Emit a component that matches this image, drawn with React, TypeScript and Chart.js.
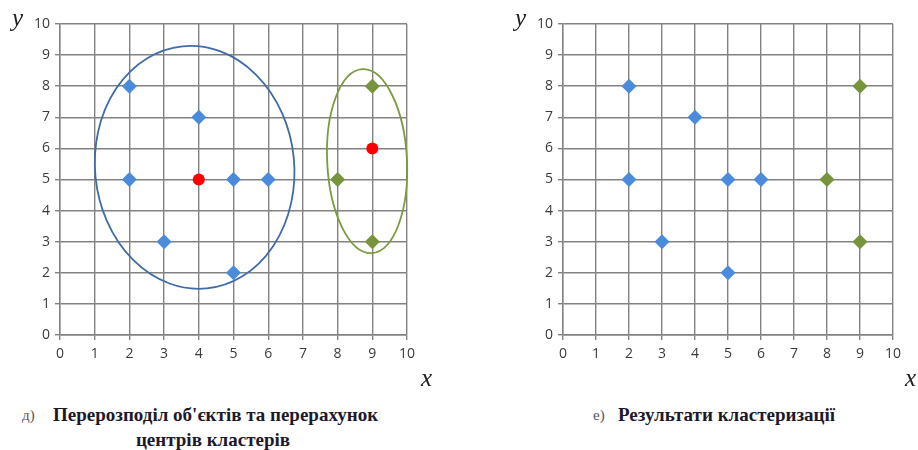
import React, { useEffect, useRef } from "react";
import { Chart, registerables } from "chart.js";

Chart.register(...registerables);

// Cluster members
const blueX = [2, 4, 2, 5, 6, 3, 5];
const blueY = [8, 7, 5, 5, 5, 3, 2];
const greenX = [8, 9, 9];
const greenY = [5, 8, 3];
// Recomputed cluster centres
const centreX = [4, 9];
const centreY = [5, 6];

// Axis range and ticks
const axisMin = 0;
const axisMax = 10;
const tickStep = 1;

// Cluster outlines (centre and half-axes in data units)
const outlineCx = [3.88, 8.85];
const outlineCy = [5.39, 5.59];
const outlineRx = [2.87, 1.15];
const outlineRy = [3.91, 2.96];
const outlineTilt = [-0.1, -0.05];
const outlineColors = ["#3f6ca8", "#7a9b3e"];

const BLUE = "#4a8bdb";
const GREEN = "#77933c";
const RED = "#ff0000";
const GRID = "#828282";

type Pt = { x: number; y: number };
const zip = (xs: number[], ys: number[]): Pt[] => xs.map((x, i) => ({ x, y: ys[i] }));

const outlinePlugin = {
  id: "clusterOutlines",
  beforeDatasetsDraw(chart: any, _args: any, opts: any) {
    if (!opts || !opts.show) return;
    const { ctx, scales } = chart;
    const xs = scales.x;
    const ys = scales.y;
    ctx.save();
    outlineCx.forEach((cx, i) => {
      const px = xs.getPixelForValue(cx);
      const py = ys.getPixelForValue(outlineCy[i]);
      const rx = Math.abs(xs.getPixelForValue(cx + outlineRx[i]) - px);
      const ry = Math.abs(ys.getPixelForValue(outlineCy[i] + outlineRy[i]) - py);
      ctx.beginPath();
      ctx.ellipse(px, py, rx, ry, outlineTilt[i], 0, Math.PI * 2);
      ctx.strokeStyle = outlineColors[i];
      ctx.lineWidth = 1.8;
      ctx.stroke();
    });
    ctx.restore();
  },
};

type PanelProps = {
  left: number;
  showCentres: boolean;
  yAxisWidth: number;
  padRight: number;
};

function ScatterPanel({ left, showCentres, yAxisWidth, padRight }: PanelProps) {
  const ref = useRef<HTMLCanvasElement>(null);

  useEffect(() => {
    if (!ref.current) return;
    const datasets: any[] = [
      {
        label: "cluster 1",
        data: zip(blueX, blueY),
        pointStyle: "rectRot",
        pointRadius: 7.5,
        backgroundColor: BLUE,
        borderWidth: 0,
      },
      {
        label: "cluster 2",
        data: zip(greenX, greenY),
        pointStyle: "rectRot",
        pointRadius: 7.5,
        backgroundColor: GREEN,
        borderWidth: 0,
      },
    ];
    if (showCentres) {
      datasets.push({
        label: "centres",
        data: zip(centreX, centreY),
        pointStyle: "circle",
        pointRadius: 6,
        backgroundColor: RED,
        borderWidth: 0,
      });
    }
    const tickFont = { family: "'Open Sans', sans-serif", size: 14 };
    const axis = (isX: boolean) => ({
      type: "linear" as const,
      min: axisMin,
      max: axisMax,
      ticks: {
        stepSize: tickStep,
        color: "#3a3a3a",
        font: tickFont,
        padding: isX ? 6 : 5,
      },
      grid: { color: GRID, lineWidth: 1.4, tickLength: 5, drawTicks: true },
      border: { color: GRID, width: 1.4 },
      afterFit: (scale: any) => {
        if (isX) scale.height = 45;
        else scale.width = yAxisWidth;
      },
    });
    const chart = new Chart(ref.current, {
      type: "scatter",
      data: { datasets },
      options: {
        responsive: false,
        animation: false,
        layout: { padding: { left: 0, top: 24, right: padRight, bottom: 0 } },
        scales: { x: axis(true), y: axis(false) },
        plugins: {
          legend: { display: false },
          tooltip: { enabled: false },
          clusterOutlines: { show: showCentres },
        } as any,
      },
      plugins: [outlinePlugin],
    });
    return () => chart.destroy();
  }, [showCentres, yAxisWidth, padRight]);

  return (
    <canvas
      ref={ref}
      width={459}
      height={380}
      style={{ position: "absolute", left, top: 0, width: 459, height: 380 }}
    />
  );
}

const axisTitle: React.CSSProperties = {
  position: "absolute",
  fontFamily: "'Liberation Serif', 'DejaVu Serif', serif",
  fontStyle: "italic",
  fontSize: 25,
  color: "#222",
  lineHeight: "25px",
};

const captionStyle: React.CSSProperties = {
  position: "absolute",
  fontFamily: "'Liberation Serif', serif",
  fontWeight: "bold",
  fontSize: 19,
  lineHeight: "22px",
  color: "#1c1a2a",
  whiteSpace: "nowrap",
};

const markStyle: React.CSSProperties = {
  position: "absolute",
  fontFamily: "'Liberation Serif', serif",
  fontSize: 15,
  lineHeight: "22px",
  color: "#555",
};

export default function App() {
  return (
    <div
      style={{
        position: "fixed",
        left: 0,
        top: 0,
        width: 918,
        height: 450,
        background: "#fff",
        overflow: "hidden",
      }}
    >
      <ScatterPanel left={0} showCentres={true} yAxisWidth={60} padRight={52} />
      <ScatterPanel left={459} showCentres={false} yAxisWidth={104} padRight={25} />

      <div style={{ ...axisTitle, left: 12, top: 5 }}>y</div>
      <div style={{ ...axisTitle, left: 421, top: 365 }}>x</div>
      <div style={{ ...axisTitle, left: 515, top: 5 }}>y</div>
      <div style={{ ...axisTitle, left: 905, top: 365 }}>x</div>

      <div style={{ ...markStyle, left: 22, top: 404 }}>д)</div>
      <div style={{ ...captionStyle, left: 53, top: 404 }}>
        Перерозподіл об'єктів та перерахунок
      </div>
      <div style={{ ...captionStyle, left: 213, top: 429, transform: "translateX(-50%)" }}>
        центрів кластерів
      </div>

      <div style={{ ...markStyle, left: 593, top: 404 }}>е)</div>
      <div style={{ ...captionStyle, left: 618, top: 404 }}>Результати кластеризації</div>
    </div>
  );
}
